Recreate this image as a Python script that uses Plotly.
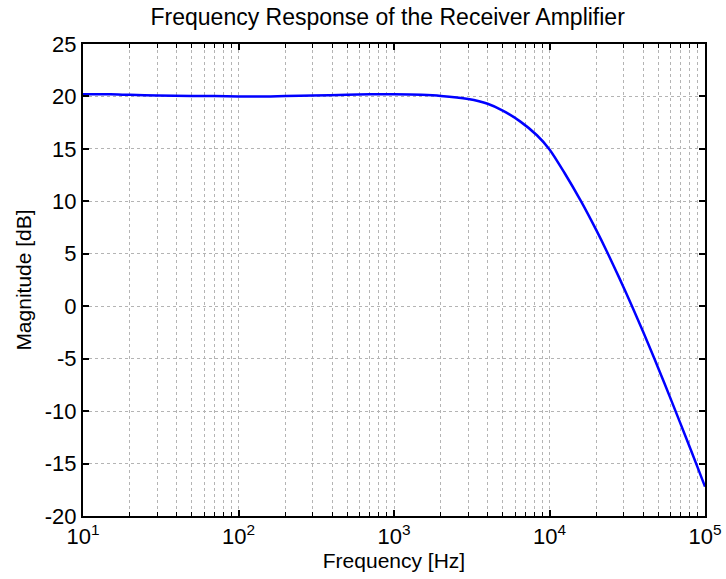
import plotly.graph_objects as go

freq_hz = [10, 15, 20, 30, 50, 70, 100, 150, 200, 300, 500, 700, 1000, 1500, 2000,
           3000, 4000, 5000, 6500, 8300, 10000, 12500, 16000, 20000, 23300, 28000,
           34000, 40000, 47300, 55000, 62600, 75000, 89500, 100000]
magnitude_db = [20.2, 20.2, 20.15, 20.1, 20.05, 20.05, 20.0, 20.0, 20.05, 20.1, 20.15,
                20.2, 20.2, 20.15, 20.05, 19.75, 19.3, 18.65, 17.6, 16.3, 14.95, 12.7,
                9.97, 7.25, 5.27, 2.75, -0.03, -2.43, -5.01, -7.4, -9.48, -12.42, -15.34, -17.2]

x_tick_vals = [10, 100, 1000, 10000, 100000]
x_tick_text = ["10<sup>1</sup>", "10<sup>2</sup>", "10<sup>3</sup>", "10<sup>4</sup>", "10<sup>5</sup>"]
y_tick_vals = [25, 20, 15, 10, 5, 0, -5, -10, -15, -20]
y_tick_text = ["25", "20", "15", "10", "5", "0", "-5", "-10", "-15", "-20"]

fig = go.Figure()
fig.add_trace(go.Scatter(x=freq_hz, y=magnitude_db, mode="lines",
                         line=dict(color="#0000ff", width=2.5, shape="spline", smoothing=0.8),
                         showlegend=False))

font_family = "Liberation Sans, Arial, sans-serif"
grid_col = "#b4b4b4"

fig.update_layout(
    width=726, height=579,
    margin=dict(l=83, r=21, t=44, b=63),
    paper_bgcolor="white", plot_bgcolor="white",
    font=dict(family=font_family, color="black"),
    title=dict(text="Frequency Response of the Receiver Amplifier",
               x=0.534, xanchor="center", y=0.97, yanchor="middle",
               font=dict(size=23, color="black")),
)

fig.update_xaxes(
    type="log", range=[1, 5], automargin=False,
    tickvals=x_tick_vals, ticktext=x_tick_text,
    tickfont=dict(size=22), ticks="inside", ticklen=6, tickwidth=1.5, tickcolor="black",
    showline=True, linecolor="black", linewidth=2, mirror="allticks",
    showgrid=True, gridcolor=grid_col, griddash="dot", gridwidth=1,
    minor=dict(dtick="D1", ticks="inside", ticklen=4, tickcolor="black", tickwidth=1,
               showgrid=True, gridcolor=grid_col, griddash="dot", gridwidth=1),
    zeroline=False,
    title=dict(text="Frequency [Hz]", font=dict(size=21), standoff=2),
)
fig.update_yaxes(
    range=[-20, 25], automargin=False,
    tickvals=y_tick_vals, ticktext=y_tick_text,
    tickfont=dict(size=22), ticks="inside", ticklen=6, tickwidth=1.5, tickcolor="black",
    showline=True, linecolor="black", linewidth=2, mirror="allticks",
    showgrid=True, gridcolor=grid_col, griddash="dot", gridwidth=1,
    zeroline=False,
    title=dict(text="Magnitude [dB]", font=dict(size=21), standoff=7),
)

fig.write_html("out.html", config={"displayModeBar": False},
               post_script="document.body.style.margin='0';document.body.style.padding='0';")
